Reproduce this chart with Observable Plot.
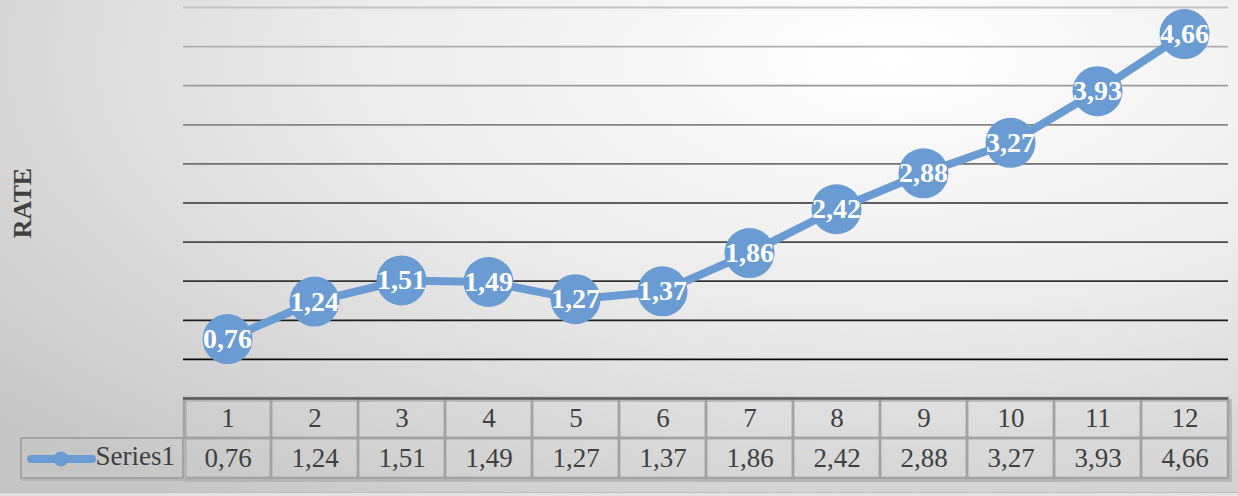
<!DOCTYPE html>
<html>
<head>
<meta charset="utf-8">
<script src="https://cdn.jsdelivr.net/npm/d3@7"></script>
<script src="https://cdn.jsdelivr.net/npm/@observablehq/plot@0.6"></script>
<style>
  html, body { margin: 0; padding: 0; }
  #wrap {
    position: relative; width: 1238px; height: 496px; overflow: hidden;
    background: radial-gradient(ellipse 95% 110% at 72% 12%, #ffffff 0%, #ececec 45%, #d4d4d4 80%, #c6c6c6 100%);
    font-family: "Liberation Serif", "Times New Roman", serif;
  }
  #main { position: absolute; left: 0; top: 0; z-index: 2; }
  #table { position: absolute; left: 0; top: 396px; z-index: 1; }
  #main svg, #table svg { overflow: visible; }
  #legendcell {
    position: absolute; left: 20px; top: 437px; width: 164px; height: 42px;
    box-sizing: border-box; border: 2.5px solid #a3a3a3; z-index: 1;
    box-shadow: 2px 2px 0 #b4b4b4;
  }
  #legendcell svg { position: absolute; left: 4px; top: 6px; }
  #legendcell span {
    position: absolute; right: 7px; top: 2px; font-size: 27px; color: #404040;
    font-family: "Liberation Serif", "Times New Roman", serif;
  }
  #bottomband {
    position: absolute; left: 0; top: 492px; width: 1238px; height: 4px;
    background: #e2e2e2; border-top: 1px solid #c0c0c0;
  }
</style>
</head>
<body>
<div id="wrap">
  <div id="table"></div>
  <div id="main"></div>
  <div id="legendcell">
    <svg width="72" height="26"><line x1="5" y1="14" x2="66" y2="14" stroke="#6a9bd2" stroke-width="8" stroke-linecap="round"/><circle cx="35" cy="14" r="7.5" fill="#6a9bd2"/></svg>
    <span>Series1</span>
  </div>
  <div id="bottomband"></div>
</div>
<script>
const months = [1, 2, 3, 4, 5, 6, 7, 8, 9, 10, 11, 12];
const rates = [0.76, 1.24, 1.51, 1.49, 1.27, 1.37, 1.86, 2.42, 2.88, 3.27, 3.93, 4.66];
const gridValues = [0.5, 1, 1.5, 2, 2.5, 3, 3.5, 4, 4.5, 5];
const seriesName = "Series1";
const axisTitle = "RATE";

const fmt = v => v.toFixed(2).replace(".", ",");
const data = months.map((m, i) => ({month: m, rate: rates[i], label: fmt(rates[i])}));
const cells = months.flatMap((m, i) => [
  {month: m, row: "head", text: String(m)},
  {month: m, row: "val", text: fmt(rates[i])}
]);

const blue = "#6a9bd2";
const serif = "Liberation Serif, Times New Roman, serif";

const main = Plot.plot({
  width: 1238, height: 398,
  marginTop: 7, marginBottom: 0, marginLeft: 183, marginRight: 10,
  x: {type: "point", domain: months, padding: 0.5, axis: null},
  y: {domain: [0, 5], axis: null},
  color: {type: "linear", domain: [0.5, 5], range: ["#0a0a0a", "#c4c4c4"]},
  style: {background: "transparent", fontFamily: serif, overflow: "visible"},
  marks: [
    Plot.ruleY(gridValues, {y: d => d, stroke: d => d, strokeWidth: 1.8}),
    Plot.ruleY([0], {stroke: "#5c5c5c", strokeWidth: 2.5}),
    Plot.line(data, {x: "month", y: "rate", stroke: blue, strokeWidth: 8}),
    Plot.dot(data, {x: "month", y: "rate", r: 25, fill: blue}),
    Plot.text(data, {x: "month", y: "rate", text: "label", fill: "white", fontWeight: "bold", fontSize: 28}),
    Plot.text([axisTitle], {frameAnchor: "left", textAnchor: "middle", rotate: -90, dx: -161, fontWeight: "bold", fontSize: 26, fill: "#404040"})
  ]
});
document.getElementById("main").appendChild(main);

const table = Plot.plot({
  width: 1238, height: 86,
  marginTop: 2, marginBottom: 4, marginLeft: 183, marginRight: 10,
  x: {type: "band", domain: months, padding: 0, axis: null},
  y: {type: "band", domain: ["head", "val"], padding: 0, axis: null},
  style: {background: "transparent", fontFamily: serif, overflow: "visible"},
  marks: [
    Plot.frame({stroke: "#b4b4b4", strokeWidth: 2.5, dx: 2, dy: 2}),
    Plot.cell(cells, {x: "month", y: "row", fill: "none", stroke: "#a3a3a3", strokeWidth: 2.5, inset: 0}),
    Plot.text(cells, {x: "month", y: "row", text: "text", fontSize: 27, fill: "#404040"})
  ]
});
document.getElementById("table").appendChild(table);
</script>
</body>
</html>
